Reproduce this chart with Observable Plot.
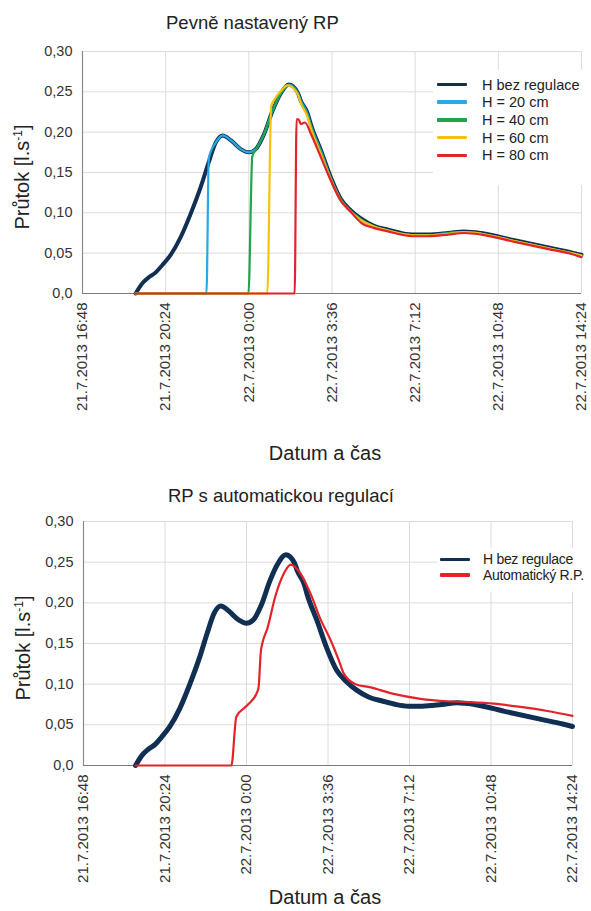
<!DOCTYPE html>
<html><head><meta charset="utf-8">
<script src="https://cdn.jsdelivr.net/npm/d3@7"></script>
<script src="https://cdn.jsdelivr.net/npm/@observablehq/plot@0.6"></script>
<style>
html,body{margin:0;padding:0;background:#fff;overflow:hidden}
body{font-family:"Liberation Sans",Arial,sans-serif;color:#222}
#wrap{position:relative;width:591px;height:911px;overflow:hidden}
.abs{position:absolute;white-space:nowrap;line-height:1}
.title{font-size:18.5px}
.ylab{font-size:20px;transform:translate(-50%,-50%) rotate(-90deg)}
.ylab sup{font-size:12px;vertical-align:0.55em;line-height:0}
.xlab{font-size:20px;transform:translate(-50%,-50%)}
.legend{position:absolute;background:#fff}
.legend .sw{position:absolute;height:3.5px;width:30px;border-radius:1px}
.legend .tx{position:absolute;font-size:14.5px;line-height:1;white-space:nowrap;color:#222;transform:translateY(-50%)}
svg{position:absolute;left:0}
</style>
</head><body>
<div id="wrap"></div>
<script>
// ---- data ----
const xTickTimes = ["2013-07-21 16:48","2013-07-21 20:24","2013-07-22 00:00","2013-07-22 03:36","2013-07-22 07:12","2013-07-22 10:48","2013-07-22 14:24"];
const xTickLabels = ["21.7.2013 16:48","21.7.2013 20:24","22.7.2013 0:00","22.7.2013 3:36","22.7.2013 7:12","22.7.2013 10:48","22.7.2013 14:24"];
const yTicks = [0, 0.05, 0.10, 0.15, 0.20, 0.25, 0.30];
const yTickLabels = ["0,0","0,05","0,10","0,15","0,20","0,25","0,30"];

const navyTimes = ["2013-07-21 19:06","2013-07-21 19:24","2013-07-21 19:40","2013-07-21 19:58","2013-07-21 20:15","2013-07-21 20:37","2013-07-21 21:03","2013-07-21 21:29","2013-07-21 21:55","2013-07-21 22:16","2013-07-21 22:34","2013-07-21 22:52","2013-07-21 23:13","2013-07-21 23:39","2013-07-22 00:00","2013-07-22 00:18","2013-07-22 00:39","2013-07-22 01:02","2013-07-22 01:23","2013-07-22 01:44","2013-07-22 02:07","2013-07-22 02:15","2013-07-22 02:33","2013-07-22 02:41","2013-07-22 03:07","2013-07-22 03:33","2013-07-22 03:59","2013-07-22 04:25","2013-07-22 04:51","2013-07-22 05:25","2013-07-22 06:02","2013-07-22 06:36","2013-07-22 07:09","2013-07-22 07:46","2013-07-22 08:38","2013-07-22 09:19","2013-07-22 10:04","2013-07-22 11:30","2013-07-22 12:58","2013-07-22 13:58","2013-07-22 14:24"];
const navyValues = [0.000,0.013,0.020,0.026,0.035,0.048,0.070,0.099,0.132,0.163,0.187,0.196,0.190,0.179,0.175,0.179,0.197,0.227,0.248,0.259,0.249,0.239,0.223,0.210,0.178,0.144,0.117,0.103,0.093,0.084,0.079,0.075,0.073,0.073,0.075,0.077,0.075,0.066,0.057,0.051,0.048];

const h20Times = ["2013-07-21 19:06","2013-07-21 22:10","2013-07-21 22:16","2013-07-21 22:34","2013-07-21 22:52","2013-07-21 23:13","2013-07-21 23:39","2013-07-22 00:00","2013-07-22 00:18","2013-07-22 00:39","2013-07-22 01:02","2013-07-22 01:23","2013-07-22 01:44","2013-07-22 02:07","2013-07-22 02:15","2013-07-22 02:33","2013-07-22 02:41","2013-07-22 03:07","2013-07-22 03:33","2013-07-22 03:59","2013-07-22 04:25","2013-07-22 04:51","2013-07-22 05:25","2013-07-22 06:02","2013-07-22 06:36","2013-07-22 07:09","2013-07-22 07:46","2013-07-22 08:38","2013-07-22 09:19","2013-07-22 10:04","2013-07-22 11:30","2013-07-22 12:58","2013-07-22 13:58","2013-07-22 14:24"];
const h20Values = [0,0,0.168,0.187,0.196,0.190,0.179,0.175,0.179,0.197,0.227,0.248,0.259,0.249,0.239,0.222,0.209,0.177,0.143,0.116,0.102,0.092,0.083,0.078,0.074,0.072,0.072,0.075,0.076,0.074,0.065,0.056,0.050,0.047];

const h40Times = ["2013-07-21 19:06","2013-07-21 23:59","2013-07-22 00:09","2013-07-22 00:18","2013-07-22 00:39","2013-07-22 01:02","2013-07-22 01:23","2013-07-22 01:44","2013-07-22 02:07","2013-07-22 02:15","2013-07-22 02:33","2013-07-22 02:41","2013-07-22 03:07","2013-07-22 03:33","2013-07-22 03:59","2013-07-22 04:25","2013-07-22 04:51","2013-07-22 05:25","2013-07-22 06:02","2013-07-22 06:36","2013-07-22 07:09","2013-07-22 07:46","2013-07-22 08:38","2013-07-22 09:19","2013-07-22 10:04","2013-07-22 11:30","2013-07-22 12:58","2013-07-22 13:58","2013-07-22 14:24"];
const h40Values = [0,0,0.170,0.178,0.197,0.227,0.248,0.258,0.248,0.237,0.220,0.207,0.175,0.142,0.116,0.102,0.092,0.083,0.078,0.074,0.072,0.072,0.075,0.076,0.074,0.065,0.056,0.050,0.047];

const h60Times = ["2013-07-21 19:06","2013-07-22 00:48","2013-07-22 00:58","2013-07-22 01:10","2013-07-22 01:23","2013-07-22 01:40","2013-07-22 02:07","2013-07-22 02:15","2013-07-22 02:33","2013-07-22 02:41","2013-07-22 03:07","2013-07-22 03:33","2013-07-22 03:59","2013-07-22 04:25","2013-07-22 04:51","2013-07-22 05:25","2013-07-22 06:02","2013-07-22 06:36","2013-07-22 07:09","2013-07-22 07:46","2013-07-22 08:38","2013-07-22 09:19","2013-07-22 10:04","2013-07-22 11:30","2013-07-22 12:58","2013-07-22 13:58","2013-07-22 14:24"];
const h60Values = [0,0,0.232,0.243,0.251,0.258,0.247,0.236,0.218,0.205,0.173,0.141,0.115,0.101,0.091,0.083,0.078,0.074,0.072,0.072,0.074,0.076,0.074,0.065,0.056,0.050,0.047];

const h80Times = ["2013-07-21 19:06","2013-07-22 01:59","2013-07-22 02:04","2013-07-22 02:09","2013-07-22 02:15","2013-07-22 02:26","2013-07-22 02:41","2013-07-22 03:07","2013-07-22 03:33","2013-07-22 03:59","2013-07-22 04:25","2013-07-22 04:51","2013-07-22 05:26","2013-07-22 06:01","2013-07-22 06:36","2013-07-22 07:10","2013-07-22 07:45","2013-07-22 08:38","2013-07-22 09:19","2013-07-22 10:04","2013-07-22 11:30","2013-07-22 12:58","2013-07-22 13:58","2013-07-22 14:24"];
const h80Values = [0,0,0.216,0.216,0.210,0.212,0.198,0.169,0.140,0.115,0.101,0.088,0.081,0.077,0.073,0.071,0.071,0.073,0.075,0.073,0.064,0.055,0.049,0.045];

const autoTimes = ["2013-07-21 19:06","2013-07-21 23:20","2013-07-21 23:33","2013-07-22 00:02","2013-07-22 00:28","2013-07-22 00:32","2013-07-22 00:38","2013-07-22 00:43","2013-07-22 00:55","2013-07-22 01:17","2013-07-22 01:39","2013-07-22 01:57","2013-07-22 02:23","2013-07-22 02:50","2013-07-22 03:16","2013-07-22 03:43","2013-07-22 04:05","2013-07-22 04:18","2013-07-22 04:49","2013-07-22 05:29","2013-07-22 06:30","2013-07-22 07:41","2013-07-22 08:52","2013-07-22 09:45","2013-07-22 10:55","2013-07-22 12:06","2013-07-22 13:17","2013-07-22 14:24"];
const autoValues = [0,0,0.060,0.074,0.090,0.096,0.140,0.152,0.168,0.209,0.236,0.247,0.236,0.211,0.180,0.154,0.129,0.113,0.100,0.096,0.088,0.082,0.079,0.078,0.076,0.072,0.067,0.061];

const topTitle = "Pevně nastavený RP";
const bottomTitle = "RP s automatickou regulací";
const xTitle = "Datum a čas";
const topNames = ["H bez regulace","H = 20 cm","H = 40 cm","H = 60 cm","H = 80 cm"];
const bottomNames = ["H bez regulace","Automatický R.P."];

// ---- build ----
const parse = d3.utcParse("%Y-%m-%d %H:%M");
const series = (times, values) => times.map((t, i) => ({t: parse(t), v: values[i]}));
const xTicks = xTickTimes.map(parse);
const xDomain = [xTicks[0], xTicks[xTicks.length - 1]];
const fmtX = d => xTickLabels[xTicks.findIndex(x => +x === +d)];
const fmtY = d => yTickLabels[yTicks.indexOf(d)];

const NAVY = "#102f52", BLUE = "#27aae1", GREEN = "#1fa64a", YELLOW = "#f6c20f", RED = "#e3232b";

function makePlot({marginLeft, marginRight, marginTop, marginBottom, height, lines}) {
  return Plot.plot({
    width: 591, height, marginLeft, marginRight, marginTop, marginBottom,
    style: {fontFamily: '"Liberation Sans", Arial, sans-serif', fontSize: "14.5px", color: "#333", background: "transparent", overflow: "visible"},
    x: {type: "utc", domain: xDomain},
    y: {domain: [0, 0.30]},
    marks: [
      Plot.gridY(yTicks, {stroke: "#dcdcdc", strokeOpacity: 1}),
      Plot.gridX(xTicks, {stroke: "#dcdcdc", strokeOpacity: 1}),
      Plot.axisY(yTicks, {tickSize: 0, tickPadding: 10, tickFormat: fmtY, label: null}),
      Plot.axisX(xTicks, {tickSize: 0, tickPadding: 9, tickRotate: -90, tickFormat: fmtX, label: null, fontSize: 15}),
      Plot.ruleX([xDomain[0]], {stroke: "#8a8a8a", strokeWidth: 1.2}),
      Plot.ruleY([0], {stroke: "#7a7a7a", strokeWidth: 1.2}),
      ...lines.map(l => Plot.line(l.data, {x: "t", y: "v", stroke: l.color, strokeWidth: l.w, curve: "monotone-x", strokeLinejoin: "round", strokeLinecap: "round"}))
    ]
  });
}

const wrap = document.getElementById("wrap");

const p1 = makePlot({marginLeft: 82, marginRight: 10, marginTop: 51, marginBottom: 150, height: 443, lines: [
  {data: series(navyTimes, navyValues), color: NAVY, w: 4},
  {data: series(h20Times, h20Values), color: BLUE, w: 2.2},
  {data: series(h40Times, h40Values), color: GREEN, w: 2.2},
  {data: series(h60Times, h60Values), color: YELLOW, w: 2.2},
  {data: series(h80Times, h80Values), color: RED, w: 2.2}
]});
p1.style.top = "0px";
wrap.appendChild(p1);

const p2 = makePlot({marginLeft: 83, marginRight: 19, marginTop: 51, marginBottom: 135, height: 430, lines: [
  {data: series(navyTimes, navyValues), color: NAVY, w: 5},
  {data: series(autoTimes, autoValues), color: RED, w: 2.2}
]});
p2.style.top = "470px";
wrap.appendChild(p2);

function addDiv(cls, html, css) {
  const d = document.createElement("div");
  d.className = "abs " + cls;
  d.innerHTML = html;
  Object.assign(d.style, css);
  wrap.appendChild(d);
  return d;
}
addDiv("title", topTitle, {left: "166px", top: "14px"});
addDiv("title", bottomTitle, {left: "168px", top: "487px"});
addDiv("ylab", "Průtok [l.s<sup>-1</sup>]", {left: "22px", top: "177px"});
addDiv("ylab", "Průtok [l.s<sup>-1</sup>]", {left: "23px", top: "648px"});
addDiv("xlab", xTitle, {left: "325px", top: "453px"});
addDiv("xlab", xTitle, {left: "325px", top: "897px"});

function legend(box, names, colors, rowYs, lineX, textX, fit) {
  const L = document.createElement("div");
  L.className = "legend";
  Object.assign(L.style, {left: box[0] + "px", top: box[1] + "px", width: box[2] + "px", height: box[3] + "px"});
  names.forEach((n, i) => {
    const s = document.createElement("div");
    s.className = "sw";
    Object.assign(s.style, {left: (lineX - box[0]) + "px", top: (rowYs[i] - box[1] - 1.75) + "px", background: colors[i]});
    L.appendChild(s);
    const t = document.createElement("div");
    t.className = "tx";
    t.textContent = n;
    Object.assign(t.style, {left: (textX - box[0]) + "px", top: (rowYs[i] - box[1]) + "px"});
    if (fit) Object.assign(t.style, {fontSize: "14px", letterSpacing: "-0.3px"});
    L.appendChild(t);
  });
  wrap.appendChild(L);
}
legend([433, 70, 158, 115], topNames, [NAVY, BLUE, GREEN, YELLOW, RED], [84.5, 102.2, 120, 137.7, 155.4], 437, 482, false);
legend([437, 548, 154, 44], bottomNames, [NAVY, RED], [559.3, 575], 440, 483, true);
</script>
</body></html>
